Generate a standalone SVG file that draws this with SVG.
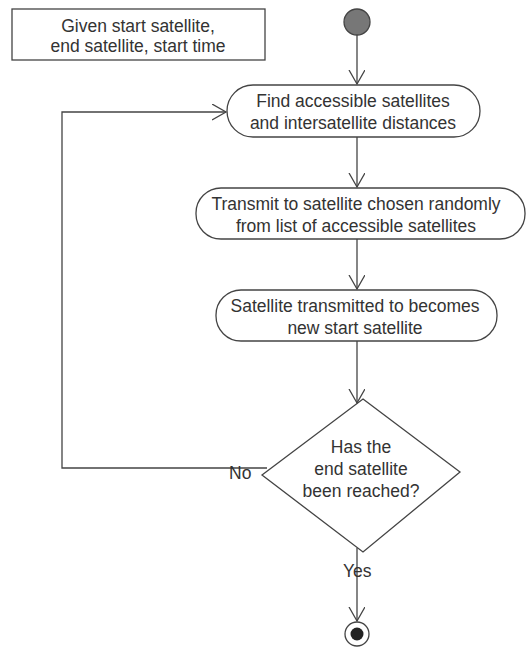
<svg xmlns="http://www.w3.org/2000/svg" width="527" height="649" viewBox="0 0 527 649">
<style>
.box{fill:#fff;stroke:#444;stroke-width:1.3}
.ln{fill:none;stroke:#444;stroke-width:1.3}
text{font-family:"Liberation Sans",Arial,sans-serif;font-size:17.5px;fill:#333;text-anchor:middle}
.lbl{text-anchor:start}
</style>
<defs>
<marker id="arr" markerWidth="16" markerHeight="18" refX="14" refY="8" orient="auto" markerUnits="userSpaceOnUse">
<path d="M0,0 L14,8 L0,16" fill="none" stroke="#444" stroke-width="1.3"/>
</marker>
</defs>
<rect width="527" height="649" fill="#fff"/>
<g id="note">
<rect class="box" x="12" y="9" width="253" height="51"/>
<text x="138" y="32">Given start satellite,</text>
<text x="138" y="52">end satellite, start time</text>
</g>
<g id="start">
<circle cx="357" cy="22" r="13" fill="#777" stroke="#444" stroke-width="1.3"/>
</g>
<g id="find">
<rect class="box" x="227" y="85" width="253" height="52" rx="26"/>
<text x="353" y="107">Find accessible satellites</text>
<text x="353" y="129">and intersatellite distances</text>
</g>
<g id="transmit">
<rect class="box" x="196" y="188" width="329" height="51" rx="25"/>
<text x="356" y="210">Transmit to satellite chosen randomly</text>
<text x="356" y="232">from list of accessible satellites</text>
</g>
<g id="newstart">
<rect class="box" x="216" y="290" width="281" height="51" rx="25"/>
<text x="355" y="312">Satellite transmitted to becomes</text>
<text x="355" y="334">new start satellite</text>
</g>
<g id="decision">
<polygon class="box" points="363,399 460,472 363,552 262,475"/>
<text x="361" y="453">Has the</text>
<text x="361" y="475">end satellite</text>
<text x="361" y="497">been reached?</text>
</g>
<g id="end">
<circle cx="357" cy="634" r="12" fill="#fff" stroke="#444" stroke-width="1.3"/>
<circle cx="357" cy="634" r="6.5" fill="#222"/>
</g>
<g id="connectors">
<line class="ln" x1="357" y1="35" x2="357" y2="84" marker-end="url(#arr)"/>
<line class="ln" x1="357" y1="137" x2="357" y2="187" marker-end="url(#arr)"/>
<line class="ln" x1="357" y1="239" x2="357" y2="289" marker-end="url(#arr)"/>
<line class="ln" x1="357" y1="341" x2="357" y2="403" marker-end="url(#arr)"/>
<polyline class="ln" points="267,468 62,468 62,112 226,112" marker-end="url(#arr)"/>
<line class="ln" x1="357" y1="548" x2="357" y2="621" marker-end="url(#arr)"/>
<text class="lbl" x="229" y="479">No</text>
<text class="lbl" x="343" y="577">Yes</text>
</g>
</svg>
